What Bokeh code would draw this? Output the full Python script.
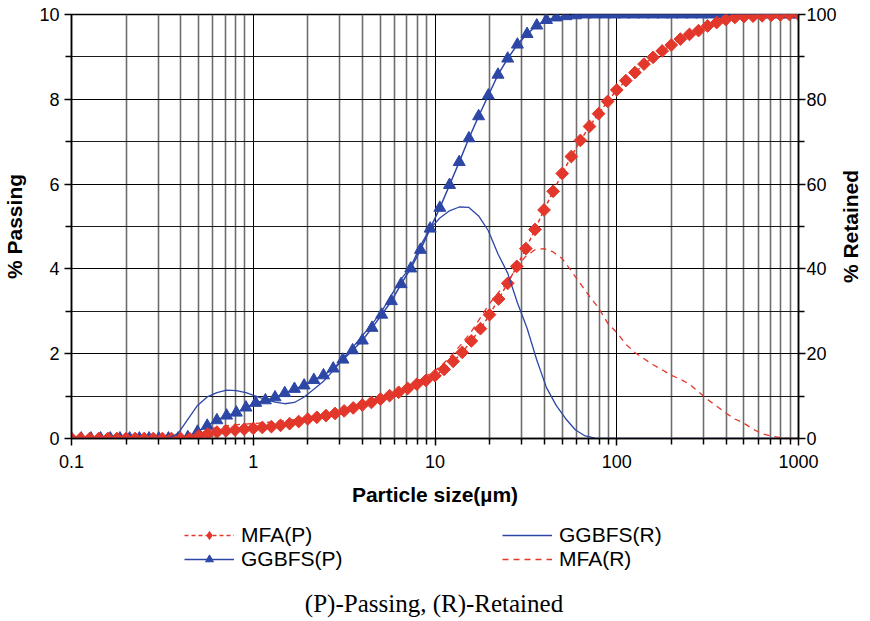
import math
import numpy as np
from bokeh.plotting import figure
from bokeh.layouts import column, row
from bokeh.models import (Range1d, LinearAxis, FixedTicker, Legend, LegendItem,
                          Label, CustomJSTickFormatter)
from bokeh.embed import file_html
from bokeh.resources import INLINE

# ---------------- data ----------------
# size classes (µm), geometric bins from 0.1 to 1000
mfa_size = np.logspace(-1, 3, 81)
ggbfs_size = np.logspace(-1, 3, 76)

# % passing (cumulative)  -> right-hand scale 0-100
mfa_passing = [0, 0, 0, 0, 0, 0, 0, 0, 0, 0, 0, 0, 0, 0,
               0.6, 1.1, 1.5, 1.8, 2.0, 2.2, 2.4, 2.6, 2.8, 3.1,
               3.5, 4.0, 4.6, 5.0, 5.4, 5.9, 6.5, 7.2, 7.9, 8.5,
               9.3, 10.1, 10.9, 11.8, 12.8, 13.7, 14.8, 16.3, 18.2, 20.3,
               23.0, 25.9, 29.2, 32.9, 36.6, 40.6, 44.8, 49.3, 53.9, 58.3,
               62.5, 66.5, 70.3, 73.6, 76.6, 79.5, 82.2, 84.4, 86.3, 88.3,
               89.9, 91.4, 92.8, 94.2, 95.3, 96.2, 97.3, 98.1, 98.8, 99.3,
               99.5, 99.6, 99.7, 99.8, 99.9, 100, 100]

ggbfs_passing = [0, 0, 0, 0, 0, 0, 0, 0, 0, 0, 0, 0,
                 0.3, 1.6, 3.0, 4.3, 5.4, 6.1, 7.3, 8.4, 9.0, 9.7,
                 10.7, 11.7, 12.5, 13.8, 14.9, 16.5, 18.6, 20.8, 23.1, 26.1,
                 29.2, 32.4, 36.4, 40.1, 44.5, 49.5, 54.4, 59.8, 65.2, 70.8,
                 76.0, 80.9, 85.8, 89.6, 92.9, 95.4, 97.4, 98.7, 99.3, 99.6,
                 99.8,
                 100, 100, 100, 100, 100, 100, 100, 100, 100, 100, 100, 100,
                 100, 100, 100, 100, 100, 100, 100, 100, 100, 100, 100]

# % retained (differential) -> left-hand scale 0-10
ggbfs_retained = [0, 0, 0, 0, 0, 0, 0, 0, 0, 0, 0,
                  0.12, 0.45, 0.78, 0.98, 1.08, 1.14, 1.13, 1.08, 1.0, 0.92,
                  0.86, 0.82, 0.85, 0.98, 1.16, 1.35, 1.6, 1.88, 2.15, 2.42,
                  2.7, 3.0, 3.38, 3.76, 4.05, 4.55, 4.95, 5.2, 5.37, 5.46,
                  5.45, 5.25, 4.9, 4.35, 3.9, 3.2, 2.6, 1.85, 1.2, 0.78,
                  0.46, 0.2, 0.06, 0.01,
                  0, 0, 0, 0, 0, 0, 0, 0, 0, 0, 0, 0, 0, 0, 0, 0, 0, 0, 0, 0, 0]

mfa_retained = [0, 0, 0, 0, 0, 0, 0, 0, 0, 0, 0, 0, 0, 0,
                0.1, 0.2, 0.26, 0.3, 0.32, 0.34, 0.35, 0.37, 0.39, 0.41,
                0.43, 0.46, 0.5, 0.54, 0.58, 0.63, 0.69, 0.75, 0.82, 0.89,
                0.96, 1.05, 1.14, 1.24, 1.35, 1.47, 1.6, 1.78, 2.0, 2.25,
                2.52, 2.85, 3.18, 3.45, 3.68, 4.05, 4.3, 4.45, 4.48, 4.4,
                4.24, 3.95, 3.65, 3.35, 3.08, 2.72, 2.5, 2.22, 2.03, 1.88,
                1.74, 1.62, 1.49, 1.4, 1.28, 1.1, 0.92, 0.76, 0.6, 0.46,
                0.36, 0.22, 0.11, 0.06, 0.02, 0, 0]

x_major = [0.1, 1, 10, 100, 1000]
x_tick_labels = ["0.1", "1", "10", "100", "1000"]
left_major = [0, 2, 4, 6, 8, 10]
right_major = [0, 20, 40, 60, 80, 100]

RED = "#e2372a"
BLUE = "#2d47a6"
FONT = "Liberation Sans"

MAIN_W = 839

# ---------------- main chart ----------------
p = figure(width=MAIN_W, height=513, x_axis_type="log",
           x_range=Range1d(0.1, 1000), y_range=Range1d(0, 10),
           output_backend="svg", toolbar_location=None,
           min_border_left=64, min_border_right=40, min_border_top=14,
           min_border_bottom=75)
p.extra_y_ranges = {"right": Range1d(0, 100)}
p.background_fill_color = "white"
p.outline_line_color = "black"
p.outline_line_width = 1.5

x_minor = [m * 10.0 ** e for e in range(-1, 3) for m in range(2, 10)]
xticker = FixedTicker(ticks=x_major, minor_ticks=x_minor)
p.xaxis.ticker = xticker
p.xaxis.formatter = CustomJSTickFormatter(
    args=dict(labels=dict(zip([str(v) for v in x_major], x_tick_labels))),
    code="""
    const keys = Object.keys(labels);
    for (const k of keys) { if (Math.abs(Math.log10(parseFloat(k)) - Math.log10(tick)) < 1e-6) return labels[k]; }
    return tick.toString();
    """)
p.xgrid.ticker = xticker
p.xgrid.grid_line_color = "black"
p.xgrid.grid_line_width = 1
p.xgrid.minor_grid_line_color = "#6e6e6e"
p.xgrid.minor_grid_line_width = 1.6

yticker = FixedTicker(ticks=left_major, minor_ticks=[1, 3, 5, 7, 9])
p.yaxis.ticker = yticker
p.ygrid.ticker = yticker
p.ygrid.grid_line_color = "black"
p.ygrid.grid_line_width = 1.2
p.ygrid.minor_grid_line_color = "#1a1a1a"
p.ygrid.minor_grid_line_width = 1

raxis = LinearAxis(y_range_name="right",
                   ticker=FixedTicker(ticks=right_major, minor_ticks=[10, 30, 50, 70, 90]))
p.add_layout(raxis, "right")

p.xaxis.axis_label = "Particle size(µm)"
p.yaxis[0].axis_label = "% Passing"

for ax in [p.xaxis[0], p.yaxis[0], raxis]:
    ax.axis_line_color = "black"
    ax.axis_line_width = 1.5
    ax.major_tick_line_color = "black"
    ax.minor_tick_line_color = "black"
    ax.major_tick_line_width = 1.5
    ax.minor_tick_line_width = 1.5
    ax.major_tick_in = 0
    ax.minor_tick_in = 0
    ax.major_tick_out = 7
    ax.minor_tick_out = 6
    ax.major_label_text_font = FONT
    ax.major_label_text_font_size = "18px"
    ax.major_label_text_color = "black"
    ax.axis_label_text_font = FONT
    ax.axis_label_text_font_size = "21px"
    ax.axis_label_text_font_style = "bold"
    ax.axis_label_text_color = "black"
    ax.major_label_standoff = 5
    ax.axis_label_standoff = 10
p.xaxis.major_label_standoff = 9
p.xaxis.axis_label_standoff = 12
raxis.major_label_standoff = 1

r_gp_line = p.line(ggbfs_size, ggbfs_passing, y_range_name="right",
                   line_color=BLUE, line_width=1.5)
r_gp_mark = p.scatter(ggbfs_size, ggbfs_passing, y_range_name="right",
                      marker="triangle", size=12, fill_color=BLUE, line_color=BLUE)
r_mp_line = p.line(mfa_size, mfa_passing, y_range_name="right",
                   line_color=RED, line_width=1.5, line_dash="4 3")
r_mp_mark = p.scatter(mfa_size, mfa_passing, y_range_name="right",
                      marker="square", angle=math.pi / 4, size=9,
                      fill_color=RED, line_color=RED)
r_gr = p.line(ggbfs_size, ggbfs_retained, line_color=BLUE, line_width=1.3)
r_mr = p.line(mfa_size, mfa_retained, line_color=RED, line_width=1.3,
              line_dash="6 5")

# ---------------- legend + caption strip ----------------
# legend proxies reuse the same series, kept out of this strip's view
q = figure(width=MAIN_W, height=108, x_range=Range1d(-10, -9), y_range=Range1d(-10, -9),
           output_backend="svg", toolbar_location=None,
           x_axis_location=None, y_axis_location=None,
           min_border_left=0, min_border_right=0, min_border_top=0,
           min_border_bottom=0)
q.grid.visible = False
q.outline_line_color = None

k_mp_line = q.line(mfa_size, mfa_passing, line_color=RED, line_width=1.5, line_dash="4 3")
k_mp_mark = q.scatter(mfa_size, mfa_passing, marker="diamond", size=15,
                      fill_color=RED, line_color=RED)
k_gp_line = q.line(ggbfs_size, ggbfs_passing, line_color=BLUE, line_width=1.5)
k_gp_mark = q.scatter(ggbfs_size, ggbfs_passing, marker="triangle", size=12,
                      fill_color=BLUE, line_color=BLUE)
k_gr = q.line(ggbfs_size, ggbfs_retained, line_color=BLUE, line_width=1.3)
k_mr = q.line(mfa_size, mfa_retained, line_color=RED, line_width=1.3, line_dash="6 5")

legend = Legend(items=[
    LegendItem(label="MFA(P)", renderers=[k_mp_line, k_mp_mark]),
    LegendItem(label="GGBFS(P)", renderers=[k_gp_line, k_gp_mark]),
    LegendItem(label="GGBFS(R)", renderers=[k_gr]),
    LegendItem(label="MFA(R)", renderers=[k_mr]),
], orientation="vertical", ncols=2, location=(113, 50))
legend.label_text_font = FONT
legend.label_text_font_size = "21px"
legend.label_text_color = "black"
legend.glyph_width = 50
legend.glyph_height = 20
legend.label_height = 20
legend.label_standoff = 7
legend.label_width = 261
legend.spacing = 0
legend.padding = 0
legend.margin = 0
legend.border_line_color = None
legend.background_fill_alpha = 0
q.add_layout(legend, "center")

cap = Label(x=362.5, y=18, x_units="screen", y_units="screen",
            text="(P)-Passing, (R)-Retained", text_align="center",
            text_baseline="middle", text_font="Liberation Serif",
            text_font_size="25px", text_color="black")
q.add_layout(cap)

# ---------------- right-hand axis title strip ----------------
t = figure(width=862 - MAIN_W, height=621, x_range=Range1d(-10, -9),
           y_range=Range1d(-10, -9), output_backend="svg", toolbar_location=None,
           x_axis_location=None, y_axis_location=None,
           min_border_left=0, min_border_right=0, min_border_top=0,
           min_border_bottom=0)
t.grid.visible = False
t.outline_line_color = None
rtitle = Label(x=11, y=621 - 226, x_units="screen", y_units="screen",
               text="% Retained", angle=math.pi / 2, text_align="center",
               text_baseline="middle", text_font=FONT, text_font_size="21px",
               text_font_style="bold", text_color="black")
t.add_layout(rtitle)

page = row(column(p, q, spacing=0), t, spacing=0)
open("out.html", "w").write(file_html(page, INLINE))
